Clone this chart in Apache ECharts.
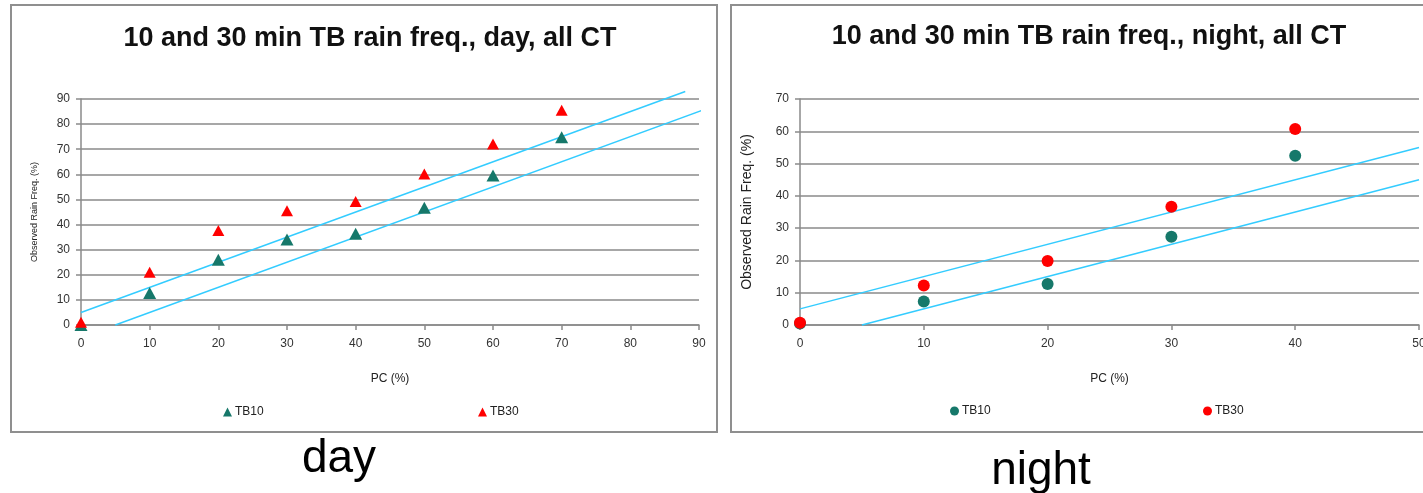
<!DOCTYPE html>
<html>
<head>
<meta charset="utf-8">
<script src="https://cdn.jsdelivr.net/npm/echarts@6/dist/echarts.min.js"></script>
<style>
html,body{margin:0;padding:0;background:#fff;}
#chart{width:1423px;height:493px;}
</style>
</head>
<body>
<div id="chart"></div>
<script>
// ---- data ----
const pcDay = [0, 10, 20, 30, 40, 50, 60, 70];
const dayTB10 = [0, 12.7, 26, 34, 36.3, 46.7, 59.5, 74.8];
const dayTB30 = [1.1, 21, 37.6, 45.5, 49.2, 60.1, 72.1, 85.5];

const pcNight = [0, 10, 20, 30, 40];
const nightTB10 = [0.5, 7.3, 12.7, 27.3, 52.4];
const nightTB30 = [0.7, 12.2, 19.8, 36.6, 60.7];

// reference lines (y = x + 5 and y = x - 5), end points
const dayUpperX = [0, 88];
const dayUpperY = [5, 93];
const dayLowerX = [5, 91.3];
const dayLowerY = [0, 86.3];
const nightUpperX = [0, 50];
const nightUpperY = [5, 55];
const nightLowerX = [5, 50];
const nightLowerY = [0, 45];

const dayTitle = '10 and 30 min TB rain freq., day, all CT';
const nightTitle = '10 and 30 min TB rain freq., night, all CT';
const xName = 'PC (%)';
const yName = 'Observed Rain Freq. (%)';

// ---- helpers ----
const FONT = 'Liberation Sans, Arial, sans-serif';
const GREEN = '#16786a';
const RED = '#ff0000';
const CYAN = '#33ccff';
const GRID = '#8a8a8a';

function pairs(xs, ys) { return xs.map((x, i) => [x, ys[i]]); }

function xAxis(gridIndex, max) {
  return {
    type: 'value', gridIndex, min: 0, max, interval: 10,
    name: xName, nameLocation: 'middle', nameGap: 48,
    nameTextStyle: { fontFamily: FONT, fontSize: 12, color: '#222' },
    axisLine: { show: true, onZero: false, lineStyle: { color: GRID, width: 1.5 } },
    axisTick: { show: true, inside: false, length: 5, lineStyle: { color: GRID, width: 1.5 } },
    axisLabel: { fontFamily: FONT, fontSize: 12, color: '#333', margin: 13 },
    splitLine: { show: false }
  };
}
function yAxis(gridIndex, max, nameGap, nameSize) {
  return {
    type: 'value', gridIndex, min: 0, max, interval: 10,
    name: yName, nameLocation: 'middle', nameGap, nameRotate: 90,
    nameTextStyle: { fontFamily: FONT, fontSize: nameSize, color: '#222' },
    axisLine: { show: true, lineStyle: { color: GRID, width: 1.5 } },
    axisTick: { show: true, inside: false, length: 5, lineStyle: { color: GRID, width: 1.5 } },
    axisLabel: { fontFamily: FONT, fontSize: 12, color: '#333', margin: 11 },
    splitLine: { show: true, lineStyle: { color: GRID, width: 1.5 } }
  };
}
function fitLine(xi, xs, ys) {
  return {
    type: 'line', xAxisIndex: xi, yAxisIndex: xi, data: pairs(xs, ys),
    symbol: 'none', clip: false, silent: true, z: 1,
    lineStyle: { color: CYAN, width: 1.5 }
  };
}
function legendItem(name, icon, left, top) {
  return {
    left, top, orient: 'horizontal', itemWidth: 9, itemHeight: 9, itemGap: 0,
    selectedMode: false,
    textStyle: { fontFamily: FONT, fontSize: 12, color: '#222', padding: [0, 0, 0, -2] },
    data: [{ name, icon }]
  };
}

const chart = echarts.init(document.getElementById('chart'), null, { renderer: 'canvas' });

chart.setOption({
  animation: false,
  backgroundColor: '#fff',
  title: [
    { text: dayTitle, left: 365, top: 20, textAlign: 'center',
      textStyle: { fontFamily: FONT, fontSize: 27, fontWeight: 'bold', color: '#111' } },
    { text: nightTitle, left: 1084, top: 18, textAlign: 'center',
      textStyle: { fontFamily: FONT, fontSize: 27, fontWeight: 'bold', color: '#111' } }
  ],
  grid: [
    { left: 81, top: 99, width: 618, height: 226, containLabel: false, outerBoundsMode: 'none' },
    { left: 800, top: 99, width: 619, height: 226, containLabel: false, outerBoundsMode: 'none' }
  ],
  xAxis: [xAxis(0, 90), xAxis(1, 50)],
  yAxis: [yAxis(0, 90, 42, 9), yAxis(1, 70, 46, 14)],
  legend: [
    legendItem('TB10', 'triangle', 218, 401),
    legendItem('TB30', 'triangle', 473, 401),
    legendItem('TB10', 'circle', 945, 400),
    legendItem('TB30', 'circle', 1198, 400)
  ],
  series: [
    fitLine(0, dayUpperX, dayUpperY),
    fitLine(0, dayLowerX, dayLowerY),
    fitLine(1, nightUpperX, nightUpperY),
    fitLine(1, nightLowerX, nightLowerY),
    { name: 'TB10', type: 'scatter', xAxisIndex: 0, yAxisIndex: 0, z: 3,
      symbol: 'triangle', symbolSize: [13, 12], itemStyle: { color: GREEN, opacity: 1 },
      data: pairs(pcDay, dayTB10) },
    { name: 'TB30', type: 'scatter', xAxisIndex: 0, yAxisIndex: 0, z: 4,
      symbol: 'triangle', symbolSize: [12, 11], itemStyle: { color: RED, opacity: 1 },
      data: pairs(pcDay, dayTB30) },
    { name: 'TB10', type: 'scatter', xAxisIndex: 1, yAxisIndex: 1, z: 3,
      symbol: 'circle', symbolSize: 12, itemStyle: { color: GREEN, opacity: 1 },
      data: pairs(pcNight, nightTB10) },
    { name: 'TB30', type: 'scatter', xAxisIndex: 1, yAxisIndex: 1, z: 4,
      symbol: 'circle', symbolSize: 12, itemStyle: { color: RED, opacity: 1 },
      data: pairs(pcNight, nightTB30) }
  ],
  graphic: [
    { type: 'rect', shape: { x: 11, y: 5, width: 706, height: 427 }, z: -1,
      style: { fill: 'none', stroke: '#8f8f8f', lineWidth: 2 } },
    { type: 'rect', shape: { x: 731, y: 5, width: 720, height: 427 }, z: -1,
      style: { fill: 'none', stroke: '#8f8f8f', lineWidth: 2 } },
    { type: 'text', x: 339, y: 459, z: 10,
      style: { text: 'day', fontFamily: FONT, fontSize: 46, fill: '#000', align: 'center', verticalAlign: 'middle' } },
    { type: 'text', x: 1041, y: 471, z: 10,
      style: { text: 'night', fontFamily: FONT, fontSize: 46, fill: '#000', align: 'center', verticalAlign: 'middle' } }
  ]
});
</script>
</body>
</html>
